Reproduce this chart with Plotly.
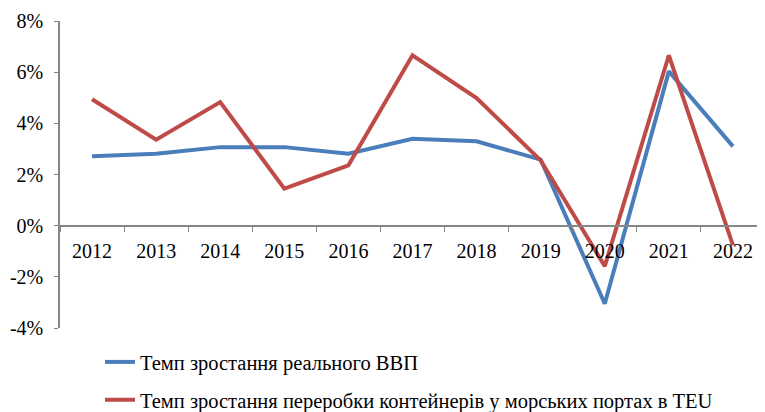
import plotly.graph_objects as go

years = ["2012", "2013", "2014", "2015", "2016", "2017", "2018", "2019", "2020", "2021", "2022"]
gdp_growth = [2.71, 2.81, 3.07, 3.07, 2.81, 3.40, 3.30, 2.58, -3.05, 6.03, 3.10]
teu_growth = [4.94, 3.36, 4.83, 1.45, 2.36, 6.66, 4.99, 2.55, -1.58, 6.66, -0.77]
series_names = ["Темп зростання реального ВВП",
                "Темп зростання переробки контейнерів у морських портах в TEU"]
y_ticks = [-4, -2, 0, 2, 4, 6, 8]
y_tick_labels = ["-4%", "-2%", "0%", "2%", "4%", "6%", "8%"]

FONT = "Liberation Serif, DejaVu Serif, serif"
AXIS_COLOR = "#868686"

fig = go.Figure()
fig.add_trace(go.Scatter(x=years, y=gdp_growth, mode="lines", name=series_names[0],
                         line=dict(color="#4A7EBB", width=4), legend="legend",
                         showlegend=True))
fig.add_trace(go.Scatter(x=years, y=teu_growth, mode="lines", name=series_names[1],
                         line=dict(color="#BE4B48", width=4), legend="legend2",
                         showlegend=True))

fig.update_layout(
    width=757, height=404,
    showlegend=True,
    margin=dict(l=52, r=0, t=13, b=84, autoexpand=False),
    paper_bgcolor="white", plot_bgcolor="white",
    font=dict(family=FONT, size=20, color="black"),
    xaxis=dict(type="category", range=[-0.5, 10.5], anchor="free", position=1/3,
               showline=True, linecolor=AXIS_COLOR, linewidth=1.5,
               ticks="outside", tickson="boundaries", ticklen=6, tickcolor=AXIS_COLOR,
               ticklabelstandoff=8,
               showgrid=False, zeroline=False, automargin=False,
               tickfont=dict(family=FONT, size=20)),
    yaxis=dict(range=[-4, 8], tickvals=y_ticks, ticktext=y_tick_labels,
               showline=True, linecolor=AXIS_COLOR, linewidth=1.5,
               ticks="outside", ticklen=4, tickcolor=AXIS_COLOR,
               ticklabelstandoff=7,
               showgrid=False, zeroline=False, automargin=False,
               tickfont=dict(family=FONT, size=20)),
    legend=dict(x=0.0567, y=-0.111, xanchor="left", yanchor="middle",
                bgcolor="rgba(0,0,0,0)", font=dict(family=FONT, size=20.5)),
    legend2=dict(x=0.0567, y=-0.234, xanchor="left", yanchor="middle",
                 bgcolor="rgba(0,0,0,0)", font=dict(family=FONT, size=20.5)),
)

fig.write_html("out.html")
